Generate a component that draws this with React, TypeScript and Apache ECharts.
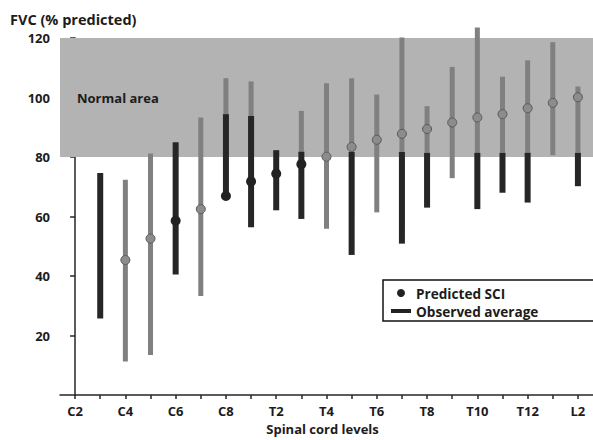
import React, { useEffect, useRef } from 'react';
import * as echarts from 'echarts';

const levels = ['C2', 'C3', 'C4', 'C5', 'C6', 'C7', 'C8', 'T1', 'T2', 'T3', 'T4', 'T5', 'T6', 'T7', 'T8', 'T9', 'T10', 'T11', 'T12', 'L1', 'L2'];
const xLabelIdx = [0, 2, 4, 6, 8, 10, 12, 14, 16, 18, 20];
const yLabels = [20, 40, 60, 80, 100, 120];
const yTitle = 'FVC (% predicted)';
const xTitle = 'Spinal cord levels';

// Predicted SCI (grey) range and mean
const predLow = [null, null, 11.3, 13.5, null, 33.3, 80, 80, null, 81.8, 55.9, 60.3, 61.4, 55.4, 81.4, 72.9, 63.1, 81.4, 80.3, 80.6, 81.4];
const predHigh = [null, null, 72.4, 81.2, null, 93.3, 106.5, 105.4, null, 95.5, 104.8, 106.5, 101, 120.2, 97.1, 110.3, 123.5, 107, 112.5, 118.6, 103.7];
const predMean = [null, null, 45.4, 52.6, null, 62.5, null, null, null, null, 80.1, 83.4, 85.8, 87.8, 89.4, 91.6, 93.3, 94.4, 96.4, 98.2, 100.1];

// Observed average (black) range and mean
const obsLow = [null, 25.7, null, null, 40.5, null, 66.9, 56.4, 62.1, 59.2, null, 47.1, null, 50.9, 63, null, 62.5, 68, 64.7, null, 70.2];
const obsHigh = [null, 74.6, null, null, 85, null, 94.4, 93.8, 82.3, 81.8, null, 81.7, null, 81.7, 81.4, null, 81.4, 81.4, 81.4, null, 81.4];
const obsMean = [null, null, null, null, 58.6, null, 66.9, 71.8, 74.4, 77.6, null, null, null, null, null, null, null, null, null, null, null];

const normalLow = 80;
const normalHigh = 120;

const FONT = "'Open Sans'";
const TXT = '#1c1c1c';

function rangeData(lo: (number | null)[], hi: (number | null)[]) {
  const out: number[][] = [];
  lo.forEach((l, i) => {
    const h = hi[i];
    if (l != null && h != null) out.push([i, l, h]);
  });
  return out;
}
function pointData(m: (number | null)[]) {
  const out: number[][] = [];
  m.forEach((v, i) => {
    if (v != null) out.push([i, v]);
  });
  return out;
}

function makeRender(color: string, width: number, z2: number) {
  return (params: any, api: any) => {
    const x = api.value(0);
    const lo = api.value(1);
    const hi = api.value(2);
    const p1 = api.coord([x, hi]);
    const p2 = api.coord([x, lo]);
    return {
      type: 'rect',
      z2,
      shape: { x: p1[0] - width / 2, y: p1[1], width, height: p2[1] - p1[1] },
      style: { fill: color },
    };
  };
}

export default function App() {
  const ref = useRef<HTMLDivElement>(null);
  useEffect(() => {
    document.body.style.margin = '0';
    if (!ref.current) return;
    const chart = echarts.init(ref.current, undefined, { renderer: 'svg' });
    const axisLineStyle = { color: '#262626', width: 1.5 };
    const labelStyle = { fontFamily: FONT, fontWeight: 'bold' as const, fontSize: 13, color: TXT };
    chart.setOption({
      animation: false,
      backgroundColor: '#ffffff',
      grid: { left: 60, right: 0, top: 38, bottom: 39 },
      graphic: [
        {
          type: 'text',
          left: 10,
          top: 12,
          style: { text: yTitle, fontFamily: FONT, fontWeight: 'bold', fontSize: 14.5, fill: TXT },
        },
      ],
      xAxis: {
        type: 'value',
        min: -0.6,
        max: 20.6,
        name: xTitle,
        nameLocation: 'middle',
        nameGap: 24,
        nameTextStyle: { ...labelStyle, padding: [0, 8, 0, 0] },
        axisLine: { show: true, onZero: false, lineStyle: axisLineStyle },
        axisTick: { show: true, length: 4, customValues: levels.map((_, i) => i), lineStyle: axisLineStyle },
        axisLabel: {
          ...labelStyle,
          margin: 9,
          customValues: xLabelIdx,
          formatter: (v: number) => levels[Math.round(v)],
        },
        splitLine: { show: false },
      },
      yAxis: {
        type: 'value',
        min: 0,
        max: 120,
        interval: 20,
        axisLine: { show: true, lineStyle: axisLineStyle },
        axisTick: { show: true, length: 5, customValues: yLabels, lineStyle: axisLineStyle },
        axisLabel: { ...labelStyle, margin: 10, customValues: yLabels },
        splitLine: { show: false },
      },
      legend: {
        left: 383,
        top: 280,
        orient: 'vertical',
        selectedMode: false,
        itemWidth: 20,
        itemHeight: 8,
        itemGap: 4,
        borderColor: '#111',
        borderWidth: 1.5,
        padding: [6, 80, 3, 8],
        textStyle: { ...labelStyle, fontSize: 13.6 },
        data: [
          { name: 'Predicted SCI', icon: 'circle', itemStyle: { color: '#222', borderWidth: 0 } },
          { name: 'Observed average', icon: 'path://M0,0H20V4H0Z', itemStyle: { color: '#222', borderWidth: 0 } },
        ],
      },
      series: [
        {
          name: 'Predicted SCI',
          type: 'custom',
          z: 2,
          clip: false,
          renderItem: makeRender('#808080', 5, 5),
          encode: { x: 0, y: [1, 2] },
          data: rangeData(predLow, predHigh),
          markArea: {
            silent: true,
            itemStyle: { color: '#b3b3b3' },
            label: {
              show: true,
              position: 'insideLeft',
              distance: 17,
              ...labelStyle,
            },
            data: [[{ name: 'Normal area', yAxis: normalLow }, { yAxis: normalHigh }]],
          },
        },
        {
          name: 'Observed average',
          type: 'custom',
          z: 3,
          clip: false,
          renderItem: makeRender('#262626', 6, 5),
          encode: { x: 0, y: [1, 2] },
          data: rangeData(obsLow, obsHigh),
        },
        {
          name: 'Predicted SCI',
          type: 'scatter',
          z: 4,
          symbol: 'circle',
          symbolSize: 9,
          itemStyle: { color: '#8c8c8c', borderColor: '#5a5a5a', borderWidth: 1, opacity: 1 },
          data: pointData(predMean),
        },
        {
          name: 'Observed average',
          type: 'scatter',
          z: 4,
          symbol: 'circle',
          symbolSize: 10,
          itemStyle: { color: '#222222', opacity: 1 },
          data: pointData(obsMean),
        },
      ],
    });
    return () => chart.dispose();
  }, []);
  return <div ref={ref} style={{ width: 593, height: 440 }} />;
}
